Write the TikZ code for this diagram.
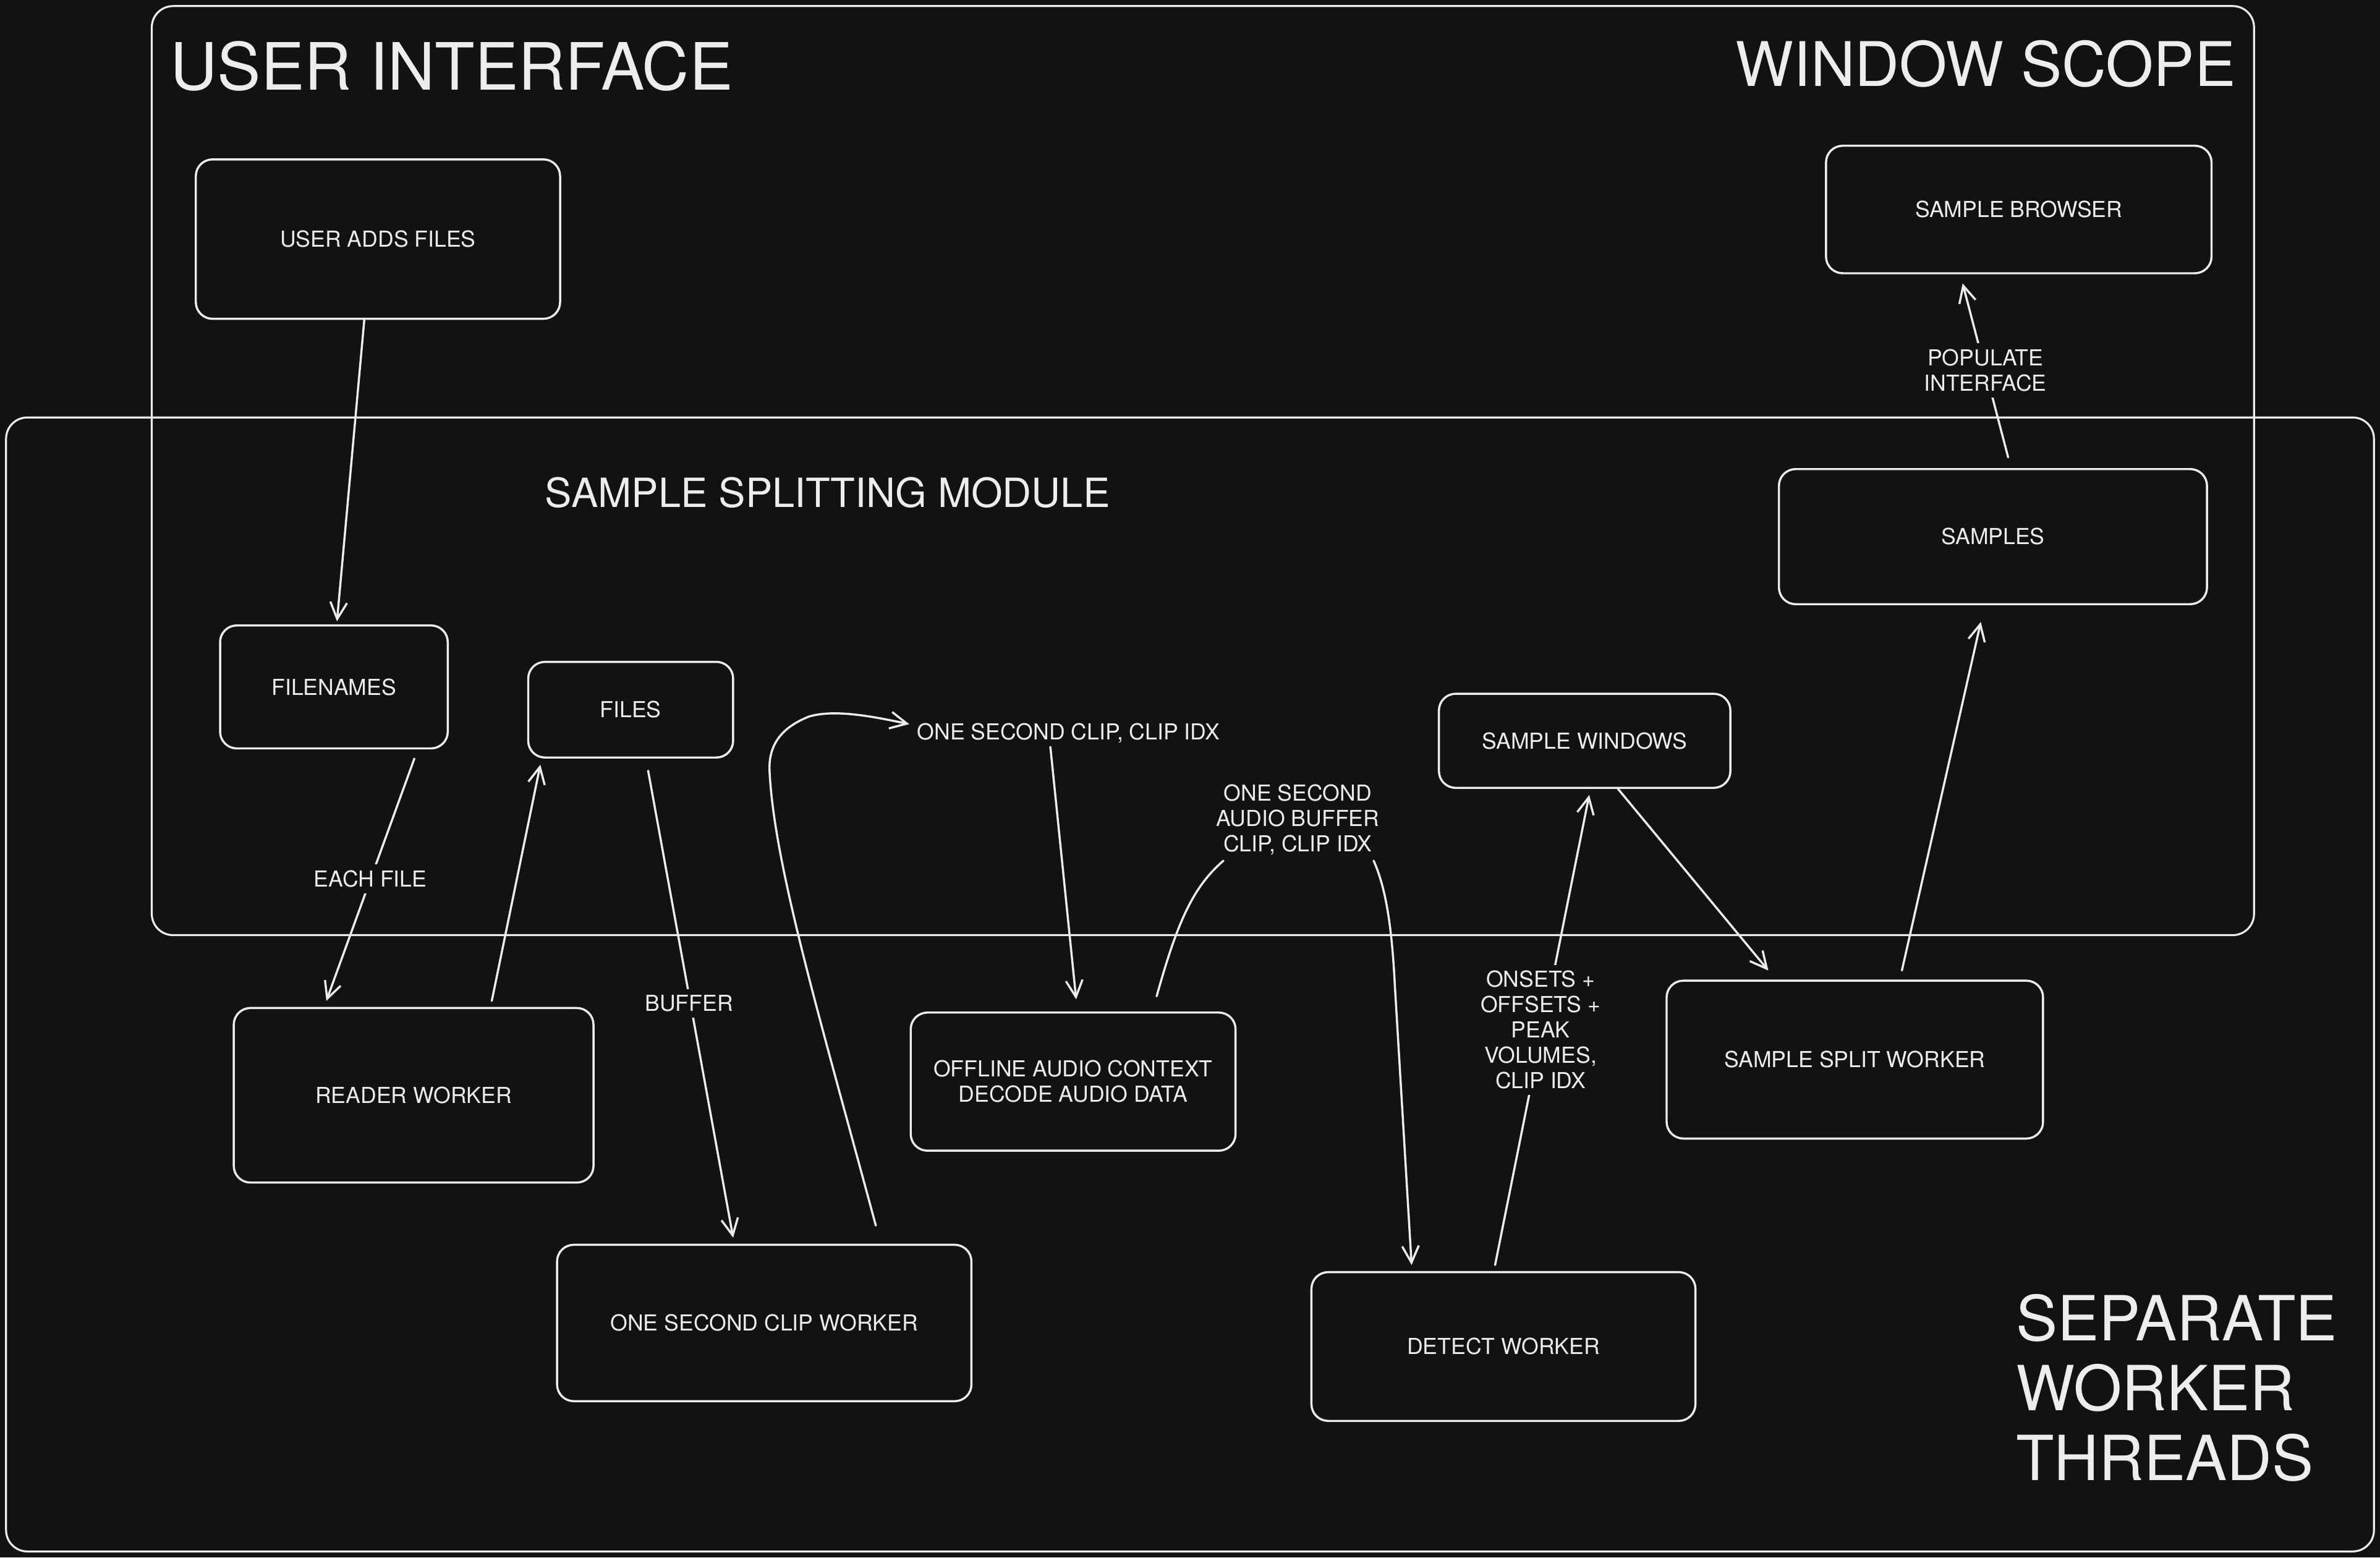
\documentclass[tikz,border=0pt]{standalone}
\usepackage{fontspec}
\setmainfont{TeX Gyre Heros}
\usetikzlibrary{arrows.meta,calc}
\definecolor{bg}{HTML}{121212}
\definecolor{fg}{HTML}{EDEDED}
\begin{document}
\begin{tikzpicture}[x=1pt,y=-1pt,
  every node/.style={text=fg},
  frame/.style={draw=fg, line width=1.3pt, rounded corners=14pt},
  box/.style={draw=fg, line width=1.4pt, rounded corners=11pt, fill=bg,
    font=\fontsize{14.5}{16.7}\selectfont, align=center, inner sep=0pt},
  lbl/.style={font=\fontsize{14.5}{16.7}\selectfont, align=center, fill=bg, inner sep=4pt},
  conn/.style={draw=fg, line width=1.4pt, line cap=round, line join=round,
    -{Straight Barb[length=11pt,width=11pt,line width=1.4pt]}},
  plain/.style={draw=fg, line width=1.4pt, line cap=round, line join=round},
  title/.style={font=\fontsize{41}{46}\selectfont, inner sep=0pt},
  midtitle/.style={font=\fontsize{26.5}{30}\selectfont, inner sep=0pt}
]
\useasboundingbox (0,0) rectangle (1568,1026);
\fill[bg] (0,0) rectangle (1568,1026);

% frames
\draw[frame] (100,4) rectangle (1485,616);
\draw[frame] (4,275) rectangle (1564,1022);

% titles
\node[title, font=\fontsize{43}{46}\selectfont, anchor=base west] (tui) at (112,59.2) {USER INTERFACE};
\node[title, font=\fontsize{40.5}{46}\selectfont, anchor=base east] (tws) at (1473,57) {WINDOW SCOPE};
\node[midtitle, anchor=base west] (tsm) at (359,334) {SAMPLE SPLITTING MODULE};
\node[title, anchor=base west] (tsw1) at (1328,883) {SEPARATE};
\node[title, anchor=base west] (tsw2) at (1328,929) {WORKER};
\node[title, anchor=base west] (tsw3) at (1328,975) {THREADS};

% boxes
\node[box, minimum width=240pt, minimum height=105pt] (ua) at (249,157.5) {USER ADDS FILES};
\node[box, minimum width=254pt, minimum height=84pt] (sb) at (1330,138) {SAMPLE BROWSER};
\node[box, minimum width=282pt, minimum height=89pt] (sm) at (1313,353.5) {SAMPLES};
\node[box, minimum width=150pt, minimum height=81pt] (fn) at (220,452.5) {FILENAMES};
\node[box, minimum width=135pt, minimum height=63pt] (fl) at (415.5,467.5) {FILES};
\node[box, minimum width=192pt, minimum height=62pt] (sw) at (1044,488) {SAMPLE WINDOWS};
\node[box, minimum width=237pt, minimum height=115pt] (rw) at (272.5,721.5) {READER WORKER};
\node[box, minimum width=214pt, minimum height=91pt] (oa) at (707,712.5) {OFFLINE AUDIO CONTEXT\\DECODE AUDIO DATA};
\node[box, minimum width=248pt, minimum height=104pt] (ssw) at (1222,698) {SAMPLE SPLIT WORKER};
\node[box, minimum width=273pt, minimum height=103pt] (oc) at (503.5,871.5) {ONE SECOND CLIP WORKER};
\node[box, minimum width=253pt, minimum height=98pt] (dw) at (990.5,887) {DETECT WORKER};

% free labels (targets of connectors)
\node[lbl] (c1) at (704,483) {ONE SECOND CLIP, CLIP IDX};
\node[lbl] (c2) at (855,540) {ONE SECOND\\AUDIO BUFFER\\CLIP, CLIP IDX};

% connectors
\draw[conn] ($(ua.south)+(-9,0)$) -- ($(fn.north)+(2,-2)$);
\draw[conn] ($(fn.south)+(53,6)$) -- ($(rw.north)+(-57.5,-4)$);
\draw[conn] ($(rw.north)+(51.5,-4)$) -- ($(fl.south)+(-59.5,4)$);
\draw[conn] ($(fl.south)+(11.5,8)$) -- ($(oc.north)+(-20.5,-4)$);
\draw[conn] ($(oc.north)+(73.5,-12)$) .. controls (540,670) and (510,570) .. (507,508)
  .. controls (506,488) and (518,478) .. (533,472)
  .. controls (550,467) and (575,472) .. ($(c1.center)+(-105,-6)$);
\draw[conn] ($(c1.center)+(-12,9)$) -- ($(oa.north)+(2,-8)$);
\draw[plain] ($(oa.north)+(55,-10)$) .. controls (775,610) and (785,585) .. ($(c2.center)+(-49,27)$);
\draw[conn] ($(c2.center)+(50,27)$) .. controls (913,585) and (917,610) .. (919,650)
  -- ($(dw.north)+(-60.5,-4)$);
\draw[conn] ($(dw.north)+(-5.5,-4)$) -- ($(sw.south)+(3,4)$);
\draw[conn] ($(sw.south)+(22,0)$) -- ($(ssw.north)+(-57,-6)$);
\draw[conn] ($(ssw.north)+(31,-6)$) -- ($(sm.south)+(-8,11)$);
\draw[conn] ($(sm.north)+(10,-7)$) -- ($(sb.south)+(-37,6)$);

% labels on connectors
\node[lbl] (l1) at (244,579) {EACH FILE};
\node[lbl] (l2) at (454,661) {BUFFER};
\node[lbl] (l3) at (1015,678.5) {ONSETS +\\OFFSETS +\\PEAK\\VOLUMES,\\CLIP IDX};
\node[lbl] (l4) at (1308,244) {POPULATE\\INTERFACE};
\end{tikzpicture}
\end{document}
